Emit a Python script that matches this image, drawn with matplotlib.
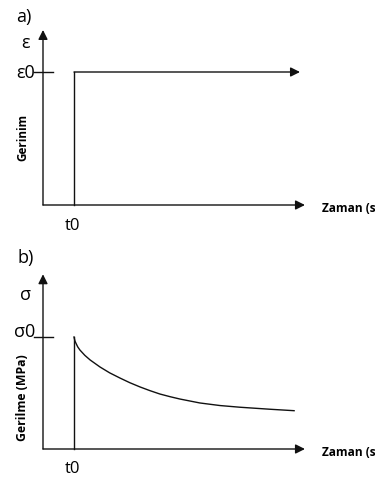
import numpy as np
import matplotlib.pyplot as plt

plt.rcParams['font.family'] = ['Open Sans', 'DejaVu Sans']

# DATA
t0 = 1.0
eps0 = 1.0
sig0 = 1.0
axis_end_x = 8.45      # x-axis arrow tip (time units)
top_end_y = 1.316      # y-axis arrow tip, panel a
bot_end_y = 1.56       # y-axis arrow tip, panel b
step_end = 8.29        # end of strain step arrow

# stress relaxation curve
t_relax = [1.0, 1.03, 1.06, 1.12, 1.19, 1.35, 1.52, 1.84, 2.15, 2.48, 2.8, 3.13, 3.45,
           3.77, 4.1, 4.42, 5.06, 5.71, 6.35, 7.32, 8.10]
sig_relax = [1.0, 0.965, 0.946, 0.912, 0.884, 0.836, 0.795, 0.732, 0.680, 0.634, 0.592,
             0.554, 0.521, 0.491, 0.467, 0.446, 0.411, 0.388, 0.373, 0.355, 0.342]

lc = '#111111'
lw = 1.0

fig = plt.figure(figsize=(3.75, 4.79), dpi=100)
ax1 = fig.add_axes([0, 1 - 240/479, 1, 240/479])
ax2 = fig.add_axes([0, 0, 1, 239/479])

for ax in (ax1, ax2):
    ax.set_xlim(-43/31, (375-43)/31)
    ax.axis('off')
ax1.set_ylim(-35/133, 205/133)
ax2.set_ylim(-30/112, 209/112)

arrow = dict(arrowstyle='-|>', color=lc, lw=lw, mutation_scale=14, shrinkA=0, shrinkB=0)

# ---- panel a) ----
ax1.annotate('', xy=(0, top_end_y), xytext=(0, 0), arrowprops=arrow)
ax1.annotate('', xy=(axis_end_x, 0), xytext=(0, 0), arrowprops=arrow)
ax1.plot([t0, t0], [0, eps0], color=lc, lw=lw)
ax1.annotate('', xy=(step_end, eps0), xytext=(t0, eps0), arrowprops=arrow)
ax1.plot([-0.29, 0.32], [eps0, eps0], color=lc, lw=lw)

ax1.text(-0.61, 1.376, 'a)', fontsize=13, ha='center', va='baseline')
ax1.text(-0.58, 1.18, 'ε', fontsize=13, ha='center', va='baseline')
ax1.text(-0.26, 0.955, 'ε0', fontsize=13, ha='right', va='baseline')
ax1.text(t0 - 0.05, -0.188, 't0', fontsize=12, ha='center', va='baseline')
ax1.text(9.0, -0.053, 'Zaman (s)', fontsize=8.6, fontweight='bold', ha='left', va='baseline')
ax1.text(-0.65, 0.51, 'Gerinim', fontsize=8.5, fontweight='bold', rotation=90,
         ha='center', va='center')

# ---- panel b) ----
ax2.annotate('', xy=(0, bot_end_y), xytext=(0, 0), arrowprops=arrow)
ax2.annotate('', xy=(axis_end_x, 0), xytext=(0, 0), arrowprops=arrow)
ax2.plot([t0, t0], [0, sig0], color=lc, lw=lw)
ax2.plot(t_relax, sig_relax, color=lc, lw=lw)
ax2.plot([-0.29, 0.32], [sig0, sig0], color=lc, lw=lw)

ax2.text(-0.55, 1.66, 'b)', fontsize=13, ha='center', va='baseline')
ax2.text(-0.58, 1.33, 'σ', fontsize=13, ha='center', va='baseline')
ax2.text(-0.26, 1.0, 'σ0', fontsize=13, ha='right', va='baseline')
ax2.text(t0 - 0.05, -0.214, 't0', fontsize=12, ha='center', va='baseline')
ax2.text(9.0, -0.0625, 'Zaman (s)', fontsize=8.6, fontweight='bold', ha='left', va='baseline')
ax2.text(-0.65, 0.46, 'Gerilme (MPa)', fontsize=8.8, fontweight='bold', rotation=90,
         ha='center', va='center')

fig.savefig('out.png', dpi=100)
